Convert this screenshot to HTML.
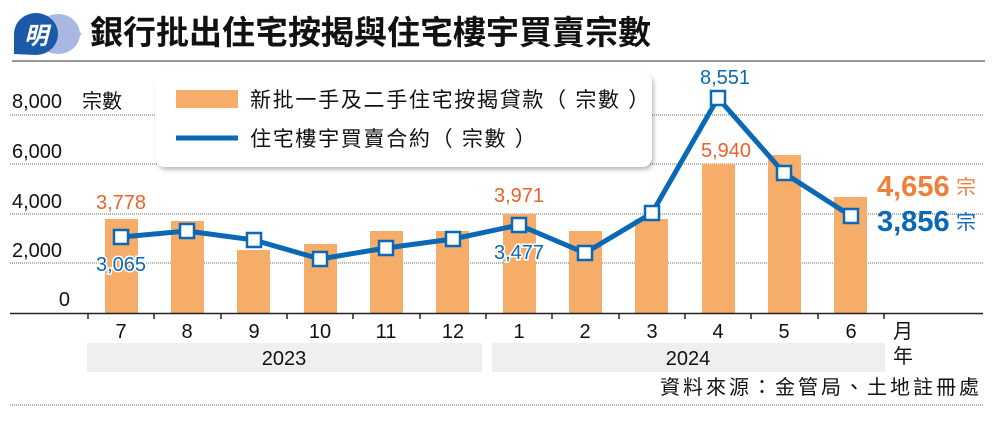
<!DOCTYPE html>
<html><head><meta charset="utf-8"><style>
html,body{margin:0;padding:0;background:#fff;}
svg text{font-family:"Liberation Sans","Noto Sans CJK TC",sans-serif;}
</style></head><body>
<svg width="1000" height="423" viewBox="0 0 1000 423" xmlns="http://www.w3.org/2000/svg">
<defs><filter id="sh" x="-5%" y="-10%" width="110%" height="130%"><feDropShadow dx="2" dy="3" stdDeviation="2" flood-color="#000" flood-opacity="0.25"/></filter></defs>
<!-- logo -->
<path d="M60 14 L82 34 L60 54 Z" fill="#a9b7e3"/>
<ellipse cx="58" cy="34" rx="22" ry="20" fill="#a9b7e3"/>
<path d="M14 54 L14 34 A22 21 0 1 1 36 55 Z" fill="#1a5aa8"/>
<text x="36" y="44" font-size="24" font-weight="bold" fill="#fff" text-anchor="middle" font-style="italic">明</text>
<text x="90" y="44" font-size="33" font-weight="bold" fill="#111">銀行批出住宅按揭與住宅樓宇買賣宗數</text>
<line x1="12" y1="61" x2="985" y2="61" stroke="#777" stroke-width="1.5"/>
<!-- grid -->
<g stroke="#666" stroke-width="1" stroke-dasharray="1,1">
<line x1="10" y1="115" x2="983" y2="115"/>
<line x1="10" y1="164" x2="983" y2="164"/>
<line x1="10" y1="214" x2="983" y2="214"/>
<line x1="10" y1="263" x2="983" y2="263"/>
<line x1="10" y1="405" x2="983" y2="405"/>
</g>
<g font-size="20" fill="#111">
<text x="12" y="108">8,000</text><text x="82" y="108">宗數</text>
<text x="12" y="158">6,000</text>
<text x="12" y="208">4,000</text>
<text x="12" y="257">2,000</text>
<text x="70" y="306" text-anchor="end">0</text>
</g>
<!-- bars -->
<g fill="#f5ad69">
<rect x="105" y="219" width="33" height="94"/>
<rect x="171" y="221" width="33" height="92"/>
<rect x="237" y="250" width="33" height="63"/>
<rect x="304" y="244" width="33" height="69"/>
<rect x="370" y="231" width="33" height="82"/>
<rect x="436" y="231" width="33" height="82"/>
<rect x="503" y="214" width="33" height="99"/>
<rect x="569" y="231" width="33" height="82"/>
<rect x="635" y="219" width="33" height="94"/>
<rect x="702" y="164" width="33" height="149"/>
<rect x="768" y="155" width="33" height="158"/>
<rect x="834" y="197" width="33" height="116"/>
</g>
<!-- axis -->
<line x1="10" y1="313.5" x2="983" y2="313.5" stroke="#222" stroke-width="1.5"/>
<g stroke="#222" stroke-width="1.5">
<line x1="88" y1="313" x2="88" y2="319"/><line x1="154" y1="313" x2="154" y2="319"/><line x1="221" y1="313" x2="221" y2="319"/><line x1="287" y1="313" x2="287" y2="319"/><line x1="353" y1="313" x2="353" y2="319"/><line x1="420" y1="313" x2="420" y2="319"/><line x1="486" y1="313" x2="486" y2="319"/><line x1="552" y1="313" x2="552" y2="319"/><line x1="619" y1="313" x2="619" y2="319"/><line x1="685" y1="313" x2="685" y2="319"/><line x1="751" y1="313" x2="751" y2="319"/><line x1="818" y1="313" x2="818" y2="319"/><line x1="884" y1="313" x2="884" y2="319"/>
</g>
<!-- line -->
<polyline points="121,237 187,231 254,240 320,259 386,248 453,239 519,225 585,253 652,213 718,98 784,173 851,216" fill="none" stroke="#0b68b5" stroke-width="5" stroke-linejoin="round"/>
<g fill="#fff" stroke="#0b68b5" stroke-width="2.5">
<rect x="114" y="230" width="14" height="14"/><rect x="180" y="224" width="14" height="14"/><rect x="247" y="233" width="14" height="14"/><rect x="313" y="252" width="14" height="14"/><rect x="379" y="241" width="14" height="14"/><rect x="446" y="232" width="14" height="14"/><rect x="512" y="218" width="14" height="14"/><rect x="578" y="246" width="14" height="14"/><rect x="645" y="206" width="14" height="14"/><rect x="711" y="91" width="14" height="14"/><rect x="777" y="166" width="14" height="14"/><rect x="844" y="209" width="14" height="14"/>
</g>
<!-- value labels -->
<g font-size="20">
<text x="121" y="209" fill="#e8622a" text-anchor="middle">3,778</text>
<text x="519" y="202" fill="#e8622a" text-anchor="middle">3,971</text>
<text x="726" y="157" fill="#e8622a" text-anchor="middle">5,940</text>
<text x="121" y="271" fill="#0b68b5" text-anchor="middle" stroke="#fff" stroke-width="3" paint-order="stroke">3,065</text>
<text x="519" y="259" fill="#0b68b5" text-anchor="middle" stroke="#fff" stroke-width="3" paint-order="stroke">3,477</text>
<text x="725" y="84" fill="#0b68b5" text-anchor="middle">8,551</text>
</g>
<text x="877" y="196" font-size="29" font-weight="bold" fill="#ef7f3a">4,656</text><text x="956" y="194" font-size="20" fill="#ef7f3a">宗</text>
<text x="877" y="231" font-size="29" font-weight="bold" fill="#0b68b5">3,856</text><text x="956" y="229" font-size="20" fill="#0b68b5">宗</text>
<!-- x labels -->
<g font-size="20" fill="#111" text-anchor="middle">
<text x="121" y="338">7</text><text x="187" y="338">8</text><text x="254" y="338">9</text><text x="320" y="338">10</text><text x="386" y="338">11</text><text x="453" y="338">12</text><text x="519" y="338">1</text><text x="585" y="338">2</text><text x="652" y="338">3</text><text x="718" y="338">4</text><text x="784" y="338">5</text><text x="851" y="338">6</text>
</g>
<rect x="87" y="343" width="395" height="29" fill="#efefef"/>
<rect x="492" y="343" width="393" height="29" fill="#efefef"/>
<text x="284" y="365" font-size="20" fill="#111" text-anchor="middle">2023</text>
<text x="688" y="365" font-size="20" fill="#111" text-anchor="middle">2024</text>
<text x="893" y="338" font-size="20" fill="#111">月</text>
<text x="893" y="363" font-size="20" fill="#111">年</text>
<text x="660" y="394" font-size="20" fill="#111" letter-spacing="3">資料來源：金管局、土地註冊處</text>
<!-- legend -->
<rect x="155" y="72" width="497" height="95" rx="10" fill="#fff" filter="url(#sh)"/>
<rect x="176" y="90" width="62" height="18" fill="#f5ad69"/>
<line x1="176" y1="138" x2="238" y2="138" stroke="#0b68b5" stroke-width="5"/>
<g font-size="21" fill="#111" letter-spacing="1.7"><text x="250" y="107">新批一手及二手住宅按揭貸款（ 宗數 ）</text><text x="250" y="146">住宅樓宇買賣合約（ 宗數 ）</text></g>
</svg>
</body></html>
